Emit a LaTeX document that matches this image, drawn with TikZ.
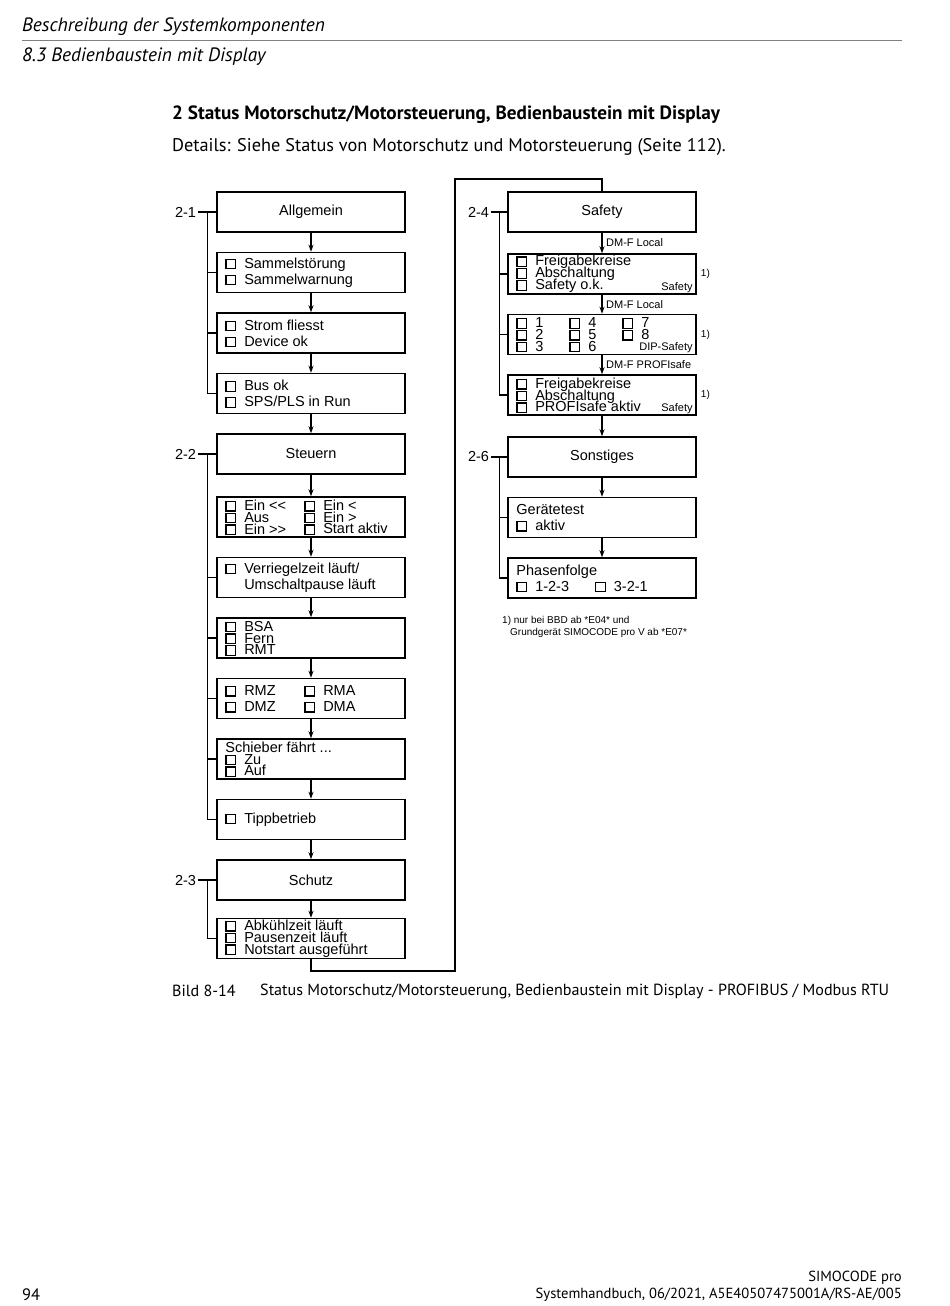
\documentclass[tikz,border=0pt]{standalone}
\usepackage{fontspec}
\setmainfont{Liberation Sans}
\newfontfamily\pagefont{PT Sans}
\usetikzlibrary{arrows.meta, positioning, calc}

% small check box in front of a status text
\newcommand{\cbx}{\smash{\setlength\fboxsep{0pt}\setlength\fboxrule{1.2pt}%
  \fbox{\rule{0pt}{8.4pt}\hspace{8.4pt}}}\hspace{8pt}}

\begin{document}
\begin{tikzpicture}[x=1pt, y=-1pt, >={Stealth[length=7pt, width=5pt]},
    box/.style={draw, line width=1.5pt, minimum width=188pt,
                minimum height=40pt, inner sep=0pt,
                font=\fontsize{14.5}{16}\selectfont},
    txt/.style={anchor=west, inner sep=0pt, align=left,
                font={\fontsize{14.5}{16}\selectfont\lineskiplimit=-20pt}},
    tight/.style={txt, font={\fontsize{14.5}{11.8}\selectfont\lineskiplimit=-20pt}},
    note/.style={inner sep=1pt, font=\fontsize{11}{13}\selectfont},
    grp/.style={line width=1.1pt},
    flow/.style={->, line width=1.2pt},
    grplabel/.style={anchor=east, inner sep=2pt, font=\fontsize{14.5}{16}\selectfont},
    page/.style={inner sep=0pt, anchor=west, font=\pagefont\fontsize{18.3}{20}\selectfont}]

  \path[use as bounding box, fill=white] (0,0) rectangle (950,1306);

  % page head
  \node[page, font=\pagefont\itshape\fontsize{19.3}{22}\selectfont] (hdr) at (22,27)
    {Beschreibung der Systemkomponenten};
  \draw[gray, line width=0.8pt] (22,40) -- (902,40);
  \node[page, font=\pagefont\itshape\fontsize{19.3}{22}\selectfont] (sec) at (22,57)
    {8.3 Bedienbaustein mit Display};
  \node[page, font=\pagefont\bfseries\fontsize{19.2}{22}\selectfont] (title) at (172,115)
    {2 Status Motorschutz/Motorsteuerung, Bedienbaustein mit Display};
  \node[page] (details) at (172,147)
    {Details: Siehe Status von Motorschutz und Motorsteuerung (Seite 112).};

  % left column
  \node[box] (allg) at (311,212) {Allgemein};
  \node[box, below=19pt of allg] (sam) {};
  \node[box, below=19pt of sam] (strom) {};
  \node[box, below=19pt of strom] (bus) {};
  \node[box, below=19pt of bus] (steu) {Steuern};
  \node[box, below=21.5pt of steu] (ein) {};
  \node[box, below=19pt of ein] (verr) {};
  \node[box, below=19pt of verr] (bsa) {};
  \node[box, below=19pt of bsa] (rmz) {};
  \node[box, below=19pt of rmz] (schieb) {};
  \node[box, below=19pt of schieb] (tipp) {};
  \node[box, below=19pt of tipp] (schutz) {Schutz};
  \node[box, below=17pt of schutz] (abk) {};

  \node[txt] at ([xshift=9pt]sam.west) {\cbx Sammelstörung\\\cbx Sammelwarnung};
  \node[txt] at ([xshift=9pt]strom.west) {\cbx Strom fliesst\\\cbx Device ok};
  \node[txt] at ([xshift=9pt]bus.west) {\cbx Bus ok\\\cbx SPS/PLS in Run};
  \node[tight] at ([xshift=9pt]ein.west) {\cbx Ein {<}{<}\\\cbx Aus\\\cbx Ein {>}{>}};
  \node[tight] at ([xshift=88pt]ein.west) {\cbx Ein {<}\\\cbx Ein {>}\\\cbx Start aktiv};
  \node[txt] at ([xshift=9pt]verr.west)
    {\cbx Verriegelzeit läuft/\\\phantom{\cbx}Umschaltpause läuft};
  \node[tight] at ([xshift=9pt]bsa.west) {\cbx BSA\\\cbx Fern\\\cbx RMT};
  \node[txt] at ([xshift=9pt]rmz.west) {\cbx RMZ\\\cbx DMZ};
  \node[txt] at ([xshift=88pt]rmz.west) {\cbx RMA\\\cbx DMA};
  \node[tight] at ([xshift=9pt]schieb.west) {Schieber fährt ...\\\cbx Zu\\\cbx Auf};
  \node[txt] at ([xshift=9pt]tipp.west) {\cbx Tippbetrieb};
  \node[tight] at ([xshift=9pt]abk.west)
    {\cbx Abkühlzeit läuft\\\cbx Pausenzeit läuft\\\cbx Notstart ausgeführt};

  % right column
  \node[box] (saf) at (602,212) {Safety};
  \node[box, below=20.5pt of saf] (frei) {};
  \node[box, below=19pt of frei] (dip) {};
  \node[box, below=19pt of dip] (prof) {};
  \node[box, below=20.5pt of prof] (sonst) {Sonstiges};
  \node[box, below=19pt of sonst] (ger) {};
  \node[box, below=19pt of ger] (phas) {};

  \node[tight] at ([xshift=9pt]frei.west)
    {\cbx Freigabekreise\\\cbx Abschaltung\\\cbx Safety o.k.};
  \node[tight] at ([xshift=9pt]dip.west) {\cbx 1\\\cbx 2\\\cbx 3};
  \node[tight] at ([xshift=62pt]dip.west) {\cbx 4\\\cbx 5\\\cbx 6};
  \node[tight] at ([xshift=115pt]dip.west) {\cbx 7\\\cbx 8\\\mbox{}};
  \node[tight] at ([xshift=9pt]prof.west)
    {\cbx Freigabekreise\\\cbx Abschaltung\\\cbx PROFIsafe aktiv};
  \node[txt] at ([xshift=9pt]ger.west) {Gerätetest\\\cbx aktiv};
  \node[txt] at ([xshift=9pt]phas.west)
    {Phasenfolge\\\cbx 1-2-3\hspace{26pt}\cbx 3-2-1};

  \foreach \b/\t in {frei/Safety, dip/DIP-Safety, prof/Safety} {
    \node[note, anchor=base east] at ([xshift=-3pt, yshift=4.5pt]\b.south east) {\t};
    \node[note, anchor=west, font=\fontsize{10}{12}\selectfont]
      at ([xshift=3pt]\b.east) {1)};
  }

  % flow arrows
  \foreach \a/\b in {allg/sam, sam/strom, strom/bus, bus/steu, steu/ein,
                     ein/verr, verr/bsa, bsa/rmz, rmz/schieb, schieb/tipp,
                     tipp/schutz, schutz/abk,
                     saf/frei, frei/dip, dip/prof, prof/sonst, sonst/ger, ger/phas}
    \draw[flow] (\a.south) -- (\b.north);

  \node[note, anchor=west] at ([xshift=3pt]$(saf.south)!0.5!(frei.north)$) {DM-F Local};
  \node[note, anchor=west] at ([xshift=3pt]$(frei.south)!0.5!(dip.north)$) {DM-F Local};
  \node[note, anchor=west] at ([xshift=3pt]$(dip.south)!0.5!(prof.north)$) {DM-F PROFIsafe};

  % link from the left column to the right one
  \coordinate (lowturn) at (455,971);
  \coordinate (topturn) at (455,179);
  \draw[line width=1.2pt] (abk.south) |- (lowturn) -- (topturn) -| (saf.north);

  % group brackets
  \node[grplabel] (g21) at ([xshift=-18pt]allg.west) {2-1};
  \draw[grp] (g21.east) -- (allg.west);
  \draw[grp] ([xshift=-9pt]allg.west) |- (bus.west);
  \foreach \n in {sam, strom} \draw[grp] ([xshift=-9pt]\n.west) -- (\n.west);

  \node[grplabel] (g22) at ([xshift=-18pt]steu.west) {2-2};
  \draw[grp] (g22.east) -- (steu.west);
  \draw[grp] ([xshift=-9pt]steu.west) |- (tipp.west);
  \foreach \n in {verr, bsa, rmz, schieb} \draw[grp] ([xshift=-9pt]\n.west) -- (\n.west);

  \node[grplabel] (g23) at ([xshift=-18pt]schutz.west) {2-3};
  \draw[grp] (g23.east) -- (schutz.west);
  \draw[grp] ([xshift=-9pt]schutz.west) |- (abk.west);

  \node[grplabel] (g24) at ([xshift=-16pt]saf.west) {2-4};
  \draw[grp] (g24.east) -- (saf.west);
  \draw[grp] ([xshift=-8pt]saf.west) |- (prof.west);
  \foreach \n in {frei, dip} \draw[grp] ([xshift=-8pt]\n.west) -- (\n.west);

  \node[grplabel] (g26) at ([xshift=-16pt]sonst.west) {2-6};
  \draw[grp] (g26.east) -- (sonst.west);
  \draw[grp] ([xshift=-8pt]sonst.west) |- (phas.west);
  \draw[grp] ([xshift=-8pt]ger.west) -- (ger.west);

  % footnote
  \node[anchor=north west, inner sep=0pt, align=left, font=\fontsize{10}{12}\selectfont]
    (fn) at (502,616) {1) nur bei BBD ab *E04* und\\\hspace{8pt}Grundgerät SIMOCODE pro V ab *E07*};

  % caption and page foot
  \node[page, font=\pagefont\fontsize{16.1}{19}\selectfont] (capnum) at (172,991) {Bild 8-14};
  \node[page, font=\pagefont\fontsize{16.1}{19}\selectfont] (captxt) at (260,991)
    {Status Motorschutz/Motorsteuerung, Bedienbaustein mit Display - PROFIBUS / Modbus RTU};
  \node[page, font=\pagefont\fontsize{16.5}{19}\selectfont] (pagenum) at (22,1295) {94};
  \node[page, anchor=east, font=\pagefont\fontsize{14.6}{17}\selectfont] (foot1) at (902,1278) {SIMOCODE pro};
  \node[page, anchor=east, font=\pagefont\fontsize{14.6}{17}\selectfont] (foot2) at (902,1295)
    {Systemhandbuch, 06/2021, A5E40507475001A/RS-AE/005};
\end{tikzpicture}
\end{document}
